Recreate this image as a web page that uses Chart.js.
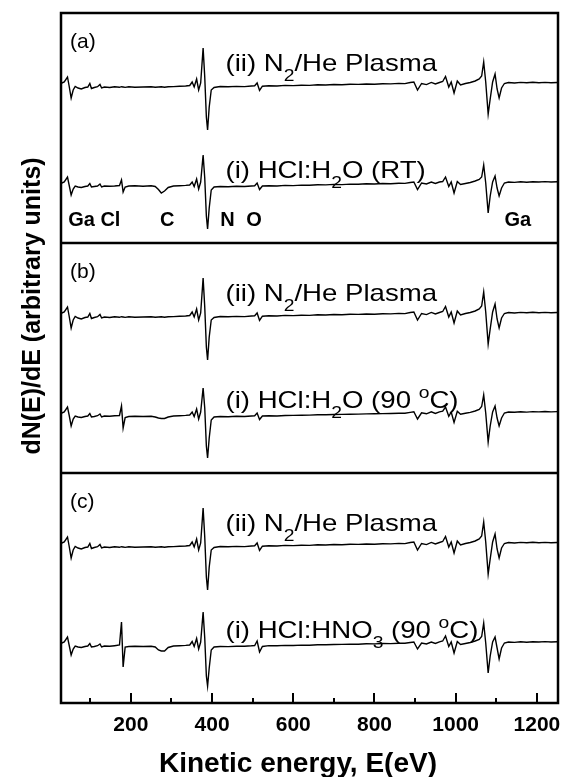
<!DOCTYPE html>
<html>
<head>
<meta charset="utf-8">
<script src="https://cdn.jsdelivr.net/npm/chart.js@4.4.0/dist/chart.umd.min.js"></script>
<style>
  html, body { margin: 0; padding: 0; background: #fff; }
</style>
</head>
<body>
<canvas id="grafico" width="571" height="777"></canvas>
<script>
// energia cinetica (eV)
var energia = [
  30, 36, 44, 48, 53, 58, 63, 70, 78, 87,
  94, 99, 103, 110, 118, 124, 128, 135, 148, 160,
  172, 177, 181, 186, 195, 210, 230, 250, 260, 268,
  275, 283, 292, 305, 320, 335, 345, 351, 356, 362,
  367, 372, 378, 382, 386, 389, 393, 398, 405, 420,
  440, 460, 480, 497, 505, 511, 517, 524, 540, 560,
  580, 600, 620, 640, 660, 680, 700, 720, 740, 760,
  780, 800, 820, 840, 860, 875, 888, 897, 906, 916,
  928, 940, 950, 960, 968, 975, 983, 989, 996, 1004,
  1012, 1024, 1036, 1048, 1058, 1064, 1069, 1074, 1080, 1085,
  1091, 1097, 1102, 1107, 1113, 1120, 1130, 1145, 1160, 1175,
  1190, 1205, 1220, 1235, 1250
];

// (ii) N2/He plasma
var plasma = [
  4, 5, 10, 1, -11, -3, 0.5, -1, -2, -0.5,
  0, 3.5, -1.5, -0.5, 0.3, 2.5, -1, 0, -0.5, 0.2,
  -0.3, 0.3, 0, -0.4, 0.2, -0.3, 0, 0.3, -0.2, 0,
  0.2, -0.3, 0.3, 0.4, 0.7, 1, 1.5, 5, 0, 8,
  -3, 4, 39, 10, -30, -43, -20, -3, -0.5, 0.5,
  0.2, 0.6, 0.4, 1, 1.2, 4, -3.5, 0.8, 1.2, 1,
  1.6, 1.4, 1.8, 1.6, 2.2, 2, 2.5, 2.3, 2.8, 2.6,
  3, 2.8, 3.3, 3.1, 3.6, 3.4, 4.5, 5, -3, 3.5,
  2.4, 4.6, 3, 4.5, 5.5, 10.5, 0, 5, -6, 6,
  2, 3.5, 4.5, 6, 8, 11, 25, 5, -27, -12,
  5, 13, -2, -11, -1, 3.5, 4.5, 4, 4.6, 4.2,
  4.7, 4.3, 4.6, 4.2, 4.5
];

// (i) HCl:H2O (RT)
var hclRT = [
  3, 4, 9, 1, -9, -3, 0, -1, -1.5, -0.5,
  0, 2.5, -1, -0.5, 0, 2, -1, 0, -0.3, 0,
  0.5, 6, -6, -1, 0, 0.3, -0.2, 0.2, -0.5, -3.5,
  -7, -5, -1.5, 0, 0.3, 0.6, 1, 4, -0.5, 7,
  -3, 4, 31, 8, -30, -43, -22, -4, -1, -0.5,
  -0.8, -0.3, -0.5, 0, 0.2, 3, -3.5, 0, 0.3, 0,
  0.6, 0.4, 0.9, 0.7, 1.3, 1.1, 1.6, 1.4, 1.9, 1.7,
  2.2, 2, 2.5, 2.3, 2.8, 2.6, 3.5, 4, -3.5, 3,
  2, 4, 2.5, 4, 4.5, 9, -0.5, 4, -7, 4.5,
  1.5, 2.5, 3.5, 5, 6.5, 9, 21, 3, -27, -10,
  4, 10, -2, -10, -2, 3, 4, 3.6, 4.2, 3.8,
  4.3, 4, 4.4, 4, 4.3
];

// (i) HCl:H2O (90 C)
var hcl90 = [
  3, 4, 9, 1, -10, -3, 0, -1, -1.5, -0.5,
  0, 2.5, -1, -0.5, 0.3, 2, -1, 0, -0.3, 0.2,
  0.5, 10, -12, -1.5, -0.5, -0.3, -0.5, -0.2, -1, -2,
  -2.5, -2.5, -1, 0, 0.3, 0.6, 1, 4, -0.5, 7,
  -3, 4, 28, 8, -30, -42, -22, -4, -1, -0.5,
  -0.8, -0.3, -0.5, 0, 0.2, 3, -3.5, 0, 0.3, 0,
  0.5, 0.6, 0.8, 0.9, 1.2, 1.3, 1.5, 1.6, 1.8, 1.9,
  2.1, 2.2, 2.4, 2.5, 2.7, 2.8, 3.6, 4.2, -3, 3.2,
  2.2, 4.2, 2.6, 4.1, 4.8, 9, -0.3, 4, -6.5, 4.8,
  1.7, 2.7, 3.6, 5, 6.6, 9.5, 21, 3, -26, -10,
  4, 10, -2, -10, -2, 3, 4, 3.7, 4.2, 3.9,
  4.4, 4.1, 4.5, 4.1, 4.4
];

// (i) HCl:HNO3 (90 C)
var hclHNO3 = [
  3, 4, 9, 1, -9, -3, 0, -1, -1.5, -0.5,
  0, 2.5, -1, -0.5, 0.3, 2, -1, 0, -0.3, 0.3,
  1, 24, -21, -1, -0.5, -0.3, -0.5, -0.3, -1, -4,
  -5, -5, -1.5, 0, 0.3, 0.6, 1, 4.5, -0.5, 7.5,
  -3, 4, 34, 8, -30, -40, -22, -4, -1, -0.5,
  -0.6, -0.3, -0.2, 0.2, 0.5, 5, -6, -0.5, 0.4, 0.2,
  0.6, 0.5, 0.9, 0.8, 1.2, 1.2, 1.5, 1.6, 1.9, 1.8,
  2.2, 2.1, 2.5, 2.4, 2.8, 2.7, 3.5, 4, -3, 3,
  2, 4, 2.5, 4.2, 5, 10, -0.5, 4, -7, 4.5,
  1.5, 2.5, 3.5, 5, 6.5, 9.5, 23, 3, -27, -10,
  4, 9, -2, -13, -2, 3, 4, 3.6, 4.2, 3.8,
  4.3, 4, 4.4, 4, 4.3
];

var xTicks = [100, 200, 300, 400, 500, 600, 700, 800, 900, 1000, 1100, 1200];
var xLabels = [200, 400, 600, 800, 1000, 1200];

// textos
var painelRotulos = ['(a)', '(b)', '(c)'];
var rotuloPlasma = [['(ii) N', 0], ['2', 1], ['/He Plasma', 0]];
var rotulosAmostra = [
  [['(i) HCl:H', 0], ['2', 1], ['O (RT)', 0]],
  [['(i) HCl:H', 0], ['2', 1], ['O (90 ', 0], ['o', 2], ['C)', 0]],
  [['(i) HCl:HNO', 0], ['3', 1], [' (90 ', 0], ['o', 2], ['C)', 0]]
];
var elementos = ['Ga', 'Cl', 'C', 'N', 'O', 'Ga'];
var elementosE = [46, 125, 272, 420, 484, 1120];

// layout: cada painel tem 230 unidades
var painelTopo = [690, 460, 230];
var desvioSup = 74, desvioInf = 173;
var fonte = '"Liberation Sans", Arial, sans-serif';

function serie(valores, base) {
  return energia.map(function(e, i) { return { x: e, y: base + valores[i] }; });
}

var amostras = [hclRT, hcl90, hclHNO3];
var datasets = [];
painelTopo.forEach(function(topo, p) {
  datasets.push({ data: serie(plasma, topo - desvioSup) });
  datasets.push({ data: serie(amostras[p], topo - desvioInf) });
});
datasets.forEach(function(d) {
  d.borderColor = '#000';
  d.borderWidth = 1.4;
  d.pointRadius = 0;
  d.tension = 0;
  d.fill = false;
});

// texto com subscrito/sobrescrito, levemente esticado na horizontal
function textoRico(ctx, x, y, partes, tam, sx) {
  ctx.save();
  ctx.translate(x, y);
  ctx.scale(sx, 1);
  var cx = 0;
  partes.forEach(function(p) {
    var t = p[1] ? tam * 0.7 : tam;
    var dy = p[1] === 1 ? tam * 0.42 : (p[1] === 2 ? -tam * 0.42 : 0);
    ctx.font = t + 'px ' + fonte;
    ctx.fillText(p[0], cx, dy);
    cx += ctx.measureText(p[0]).width;
  });
  ctx.restore();
}

var moldura = {
  id: 'moldura',
  beforeDraw: function(chart) {
    var ctx = chart.ctx;
    ctx.save();
    ctx.fillStyle = '#fff';
    ctx.fillRect(0, 0, chart.width, chart.height);
    ctx.restore();
  },
  afterDraw: function(chart) {
    var ctx = chart.ctx, a = chart.chartArea;
    var xs = chart.scales.x, ys = chart.scales.y;
    ctx.save();
    ctx.strokeStyle = '#000';
    ctx.fillStyle = '#000';

    // ticks para dentro
    ctx.lineWidth = 2;
    xTicks.forEach(function(v) {
      var px = Math.round(xs.getPixelForValue(v));
      var len = xLabels.indexOf(v) >= 0 ? 10 : 5;
      ctx.beginPath();
      ctx.moveTo(px, a.bottom);
      ctx.lineTo(px, a.bottom - len);
      ctx.stroke();
    });

    // moldura e separadores
    ctx.lineWidth = 2.5;
    ctx.strokeRect(a.left, a.top, a.right - a.left, a.bottom - a.top);
    [460, 230].forEach(function(v) {
      var py = ys.getPixelForValue(v);
      ctx.beginPath();
      ctx.moveTo(a.left, py);
      ctx.lineTo(a.right, py);
      ctx.stroke();
    });

    // rotulos dos paineis e dos espectros
    ctx.textBaseline = 'alphabetic';
    ctx.textAlign = 'left';
    var xTexto = xs.getPixelForValue(433);
    painelTopo.forEach(function(topo, p) {
      var py = ys.getPixelForValue(topo);
      ctx.font = '21px ' + fonte;
      ctx.fillText(painelRotulos[p], a.left + 9, py + 35);
      textoRico(ctx, xTexto, py + 58, rotuloPlasma, 24, 1.15);
      textoRico(ctx, xTexto, py + 165, rotulosAmostra[p], 24, 1.15);
    });

    // elementos (painel a)
    ctx.font = 'bold 20px ' + fonte;
    var pyA = ys.getPixelForValue(690);
    elementos.forEach(function(el, i) {
      ctx.fillText(el, xs.getPixelForValue(elementosE[i]), pyA + 213);
    });

    // titulos dos eixos
    ctx.textAlign = 'center';
    ctx.textBaseline = 'middle';
    ctx.font = 'bold 28px ' + fonte;
    ctx.fillText('Kinetic energy, E(eV)', 298, 764);
    ctx.translate(33, 306);
    ctx.rotate(-Math.PI / 2);
    ctx.font = 'bold 25px ' + fonte;
    ctx.fillText('dN(E)/dE (arbitrary units)', 0, 0);
    ctx.restore();
  }
};

var ctx = document.getElementById('grafico').getContext('2d');
var grafico = new Chart(ctx, {
  type: 'line',
  data: { datasets: datasets },
  options: {
    responsive: false,
    animation: false,
    layout: { padding: { left: 61, right: 13, top: 13, bottom: 0 } },
    plugins: { legend: { display: false }, tooltip: { enabled: false } },
    scales: {
      x: {
        type: 'linear',
        min: 28,
        max: 1252,
        afterFit: function(s) { s.height = 74; },
        afterBuildTicks: function(s) {
          s.ticks = xTicks.map(function(v) { return { value: v }; });
        },
        grid: { display: false, drawTicks: false },
        border: { display: false },
        ticks: {
          padding: 10,
          color: '#000',
          font: { family: fonte, size: 21, weight: 'bold' },
          maxRotation: 0,
          autoSkip: false,
          callback: function(v) { return xLabels.indexOf(v) >= 0 ? String(v) : ''; }
        }
      },
      y: {
        min: 0,
        max: 690,
        display: false
      }
    }
  },
  plugins: [moldura]
});
</script>
</body>
</html>
